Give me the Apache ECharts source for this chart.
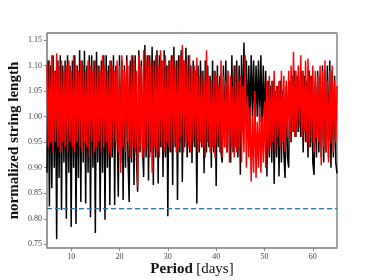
<!DOCTYPE html>
<html>
<head>
<meta charset="utf-8">
<script src="https://cdn.jsdelivr.net/npm/echarts@6/dist/echarts.min.js"></script>
<style>html,body{margin:0;padding:0;background:#fff}#c{width:374px;height:280px}</style>
</head>
<body>
<div id="c"></div>
<script>
// Sampled every 0.25 day from 5 to 65 days (4 samples per day)
const blackLength = [
  0.89,1.11,0.824,1.10,  0.86,1.12,0.90,1.09,  0.76,1.11,0.88,1.12,  0.817,1.10,0.91,1.11,
  0.80,1.12,0.89,1.10,  0.784,1.11,0.90,1.12,  0.79,1.10,0.88,1.13,  0.833,1.11,0.91,1.129,
  0.83,1.10,0.89,1.12,  0.803,1.12,0.90,1.11,  0.772,1.127,0.91,1.10,  0.814,1.11,0.89,1.12,
  0.798,1.12,0.90,1.10,  0.827,1.11,0.92,1.12,  0.827,1.10,0.98,0.843,  1.12,0.91,1.11,0.837,
  1.10,0.90,1.12,0.92,  0.833,1.11,0.91,1.12,  0.866,1.12,0.92,0.853,  1.13,0.93,1.11,0.94,
  0.882,1.14,0.92,1.12,  0.875,1.12,0.93,1.137,  0.866,1.11,0.92,1.13,  0.869,1.12,0.94,1.11,
  0.882,1.13,0.92,1.10,  0.805,1.11,0.93,1.12,  0.866,1.137,0.94,1.11,  0.837,1.12,0.93,1.13,
  0.872,1.11,0.94,1.135,  0.92,1.12,0.93,1.10,  0.909,1.11,0.94,1.09,  0.830,1.10,0.93,1.11,
  0.94,1.09,0.889,1.11,  0.93,1.10,0.94,1.08,  0.90,1.11,0.93,1.09,  0.864,1.10,0.94,1.08,
  0.93,0.91,1.10,0.94,  1.11,0.93,1.09,0.94,  0.91,1.12,0.93,1.10,  0.94,1.11,0.92,1.10,
  0.886,1.12,0.97,1.145,  1.00,1.11,0.98,1.10,  0.99,1.12,1.00,1.11,  0.98,1.10,1.00,1.11,
  0.99,1.12,0.97,1.10,  0.98,1.09,0.883,1.07,  0.92,1.06,0.91,1.07,  0.868,1.05,0.92,1.06,
  0.883,1.07,0.91,1.05,  0.93,0.88,1.06,0.92,  0.90,1.07,0.95,1.08,  0.97,1.09,0.96,1.08,
  0.97,1.07,0.96,1.09,  0.93,1.08,0.95,1.07,  0.92,1.09,0.94,1.08,  0.91,0.886,1.07,0.92,
  1.09,0.93,1.08,0.92,  1.10,0.91,1.09,0.93,  1.10,0.92,1.11,0.90,  1.09,0.92,1.08,0.91,
  0.889
];
const redLength = [
  1.10,0.94,1.11,0.95,  1.12,0.93,1.09,0.95,  1.124,0.94,1.10,0.93,  1.11,0.95,1.09,0.94,
  1.10,0.93,1.11,0.95,  1.09,0.94,1.12,0.93,  1.10,0.95,1.09,0.94,  1.11,0.93,1.10,0.95,
  1.09,0.94,1.11,0.92,  1.10,0.95,1.09,0.93,  1.11,0.94,1.10,0.95,  1.09,0.93,1.12,0.94,
  1.10,0.95,1.09,0.93,  1.11,0.92,1.10,0.94,  1.09,0.95,1.11,0.93,  1.10,0.89,1.12,0.94,
  1.09,0.93,1.11,0.95,  1.10,0.92,1.12,0.94,  1.11,0.93,1.09,0.863,  1.12,0.94,1.10,0.92,
  1.13,0.93,1.11,0.94,  1.12,0.92,1.10,0.89,  1.11,0.94,1.12,0.93,  1.10,0.92,1.13,0.94,
  1.11,0.93,1.12,0.95,  1.10,0.94,1.11,0.93,  1.12,0.95,1.10,0.93,  1.11,0.94,1.12,0.96,
  1.14,0.93,1.11,0.95,  1.10,0.94,1.12,0.93,  1.09,0.95,1.10,0.94,  1.115,0.93,1.08,0.95,
  1.09,0.94,1.07,0.92,  1.13,0.95,1.08,0.93,  1.07,0.94,1.09,0.92,  1.08,0.95,1.06,0.93,
  1.11,0.92,1.08,0.94,  1.07,0.93,1.09,0.91,  1.08,0.94,1.06,0.92,  1.10,0.93,1.07,0.94,
  1.08,0.91,1.06,0.93,  1.12,0.90,1.04,0.92,  1.02,0.873,1.00,0.89,  1.05,0.88,0.99,0.90,
  1.02,0.89,1.00,0.91,  1.03,0.90,1.07,0.93,  1.08,0.94,1.07,0.95,  1.09,0.93,1.06,0.96,
  1.07,0.94,1.09,0.95,  1.08,0.93,1.07,0.96,  1.09,0.95,1.10,0.97,  1.127,0.96,1.09,0.97,
  1.10,0.98,1.12,0.96,  1.09,0.97,1.11,0.95,  1.114,0.94,1.08,0.95,  1.10,0.93,1.09,0.96,
  1.08,0.95,1.10,0.905,  1.09,0.94,1.11,0.93,  1.07,0.91,1.09,0.95,  1.10,0.93,1.07,0.95,
  1.06
];
const thresholdPeriod = [5, 65];
const thresholdLevel = [0.82, 0.82];
const xTicks = [10, 20, 30, 40, 50, 60];
const yTicks = [0.75, 0.80, 0.85, 0.90, 0.95, 1.00, 1.05, 1.10, 1.15];

const period = blackLength.map((_, i) => 5 + 0.25 * i);
const pairs = (ys) => ys.map((v, i) => [period[i], v]);

const serif = "'Liberation Serif', 'DejaVu Serif', serif";
const chart = echarts.init(document.getElementById('c'), null, {renderer: 'canvas'});
chart.setOption({
  animation: false,
  backgroundColor: '#fff',
  grid: {left: 47, right: 37, top: 33, bottom: 32, show: true, borderColor: '#333', borderWidth: 1,
         containLabel: false, outerBoundsMode: 'none'},
  xAxis: [{
    type: 'value', min: 5, max: 65,
    axisLine: {show: true, lineStyle: {color: '#999', width: 1.5}},
    axisTick: {show: true, customValues: xTicks, length: 3, lineStyle: {color: '#888'}},
    axisLabel: {customValues: xTicks, color: '#444', fontFamily: serif, fontSize: 8, margin: 5},
    splitLine: {show: false},
    name: '{b|Period} {n|[days]}',
    nameLocation: 'middle', nameGap: 14, nameMoveOverlap: false,
    nameTextStyle: {rich: {
      b: {fontFamily: serif, fontWeight: 'bold', fontSize: 15, color: '#111'},
      n: {fontFamily: serif, fontSize: 15, color: '#111'}
    }}
  }],
  yAxis: [{
    type: 'value', min: 0.7428, max: 1.1637,
    axisLine: {show: true, lineStyle: {color: '#999', width: 1.5}},
    axisTick: {show: true, customValues: yTicks, length: 3, lineStyle: {color: '#888'}},
    axisLabel: {customValues: yTicks, color: '#444', fontFamily: serif, fontSize: 8, margin: 5,
      formatter: (v) => v.toFixed(2)},
    splitLine: {show: false},
    name: 'normalized string length',
    nameLocation: 'middle', nameGap: 25, nameMoveOverlap: false,
    nameTextStyle: {fontFamily: serif, fontWeight: 'bold', fontSize: 15, color: '#111'}
  }, {
    type: 'value', min: 0.7428, max: 1.1637, position: 'right',
    axisLine: {show: true, lineStyle: {color: '#aaa', width: 1.5}},
    axisTick: {show: false}, axisLabel: {show: false}, splitLine: {show: false}
  }],
  series: [
    {type: 'line', data: pairs(blackLength), symbol: 'none', lineStyle: {color: '#000', width: 1.5}, z: 2},
    {type: 'line', data: pairs(redLength), symbol: 'none', lineStyle: {color: '#ff0000', width: 1.5}, z: 3},
    {type: 'line', data: thresholdPeriod.map((p, i) => [p, thresholdLevel[i]]), symbol: 'none',
     lineStyle: {color: '#1f77b4', width: 1.3, type: [5, 3]}, z: 4}
  ]
});
</script>
</body>
</html>
